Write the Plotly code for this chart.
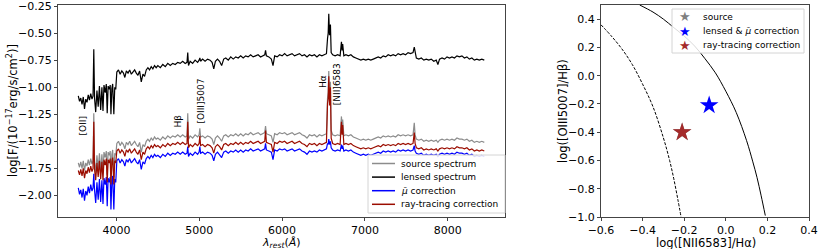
import plotly.graph_objects as go

wave = [3540,3555,3570,3585,3600,3615,3630,3645,3660,3675,
        3690,3705,3718,3727,3736,3750,3765,3780,3795,3810,
        3825,3838,3850,3865,3878,3889,3900,3915,3925,3934,
        3945,3955,3969,3980,3992,4005,4025,4045,4065,4085,
        4102,4120,4140,4160,4180,4200,4220,4240,4260,4280,
        4300,4320,4340,4360,4380,4400,4420,4440,4460,4480,
        4500,4530,4560,4590,4620,4650,4680,4710,4740,4770,
        4800,4830,4852,4861,4870,4890,4920,4950,4980,4998,
        5007,5016,5040,5070,5100,5130,5155,5175,5195,5220,
        5245,5270,5295,5320,5350,5380,5410,5440,5470,5500,
        5530,5560,5590,5620,5650,5680,5710,5740,5770,5790,
        5800,5810,5840,5870,5890,5910,5940,5970,6000,6030,
        6060,6090,6120,6150,6180,6210,6240,6270,6300,6330,
        6360,6390,6420,6450,6480,6510,6535,6548,6556,6563,
        6572,6583,6592,6610,6640,6670,6700,6716,6724,6731,
        6745,6770,6800,6830,6860,6890,6920,6950,6980,7010,
        7040,7070,7100,7130,7160,7190,7220,7250,7280,7310,
        7340,7370,7400,7430,7460,7490,7520,7550,7580,7595,
        7605,7620,7650,7680,7710,7740,7770,7800,7830,7860,
        7880,7900,7930,7960,7990,8020,8050,8080,8110,8140,
        8170,8200,8230,8260,8290,8320,8350,8380,8410,8440]

lensed = [-1.08,-1.13,-1.10,-1.16,-1.09,-1.20,-1.11,-1.14,-1.07,-1.12,
          -1.06,-1.11,-1.08,-0.65,-1.10,-1.23,-1.03,-1.18,-0.99,-1.21,
          -1.00,-1.22,-0.98,-1.05,-0.97,-1.24,-0.99,-1.02,-0.98,-1.25,
          -1.01,-0.97,-1.25,-1.00,-1.02,-0.86,-0.84,-0.88,-0.85,-0.87,
          -0.91,-0.85,-0.87,-0.84,-0.88,-0.86,-0.84,-0.87,-0.89,-0.85,
          -0.95,-0.88,-0.90,-0.84,-0.82,-0.84,-0.81,-0.83,-0.80,-0.82,
          -0.80,-0.82,-0.79,-0.81,-0.78,-0.80,-0.78,-0.79,-0.77,-0.78,
          -0.76,-0.78,-0.77,-0.68,-0.80,-0.76,-0.78,-0.75,-0.77,-0.75,
          -0.73,-0.76,-0.74,-0.76,-0.74,-0.75,-0.77,-0.83,-0.76,-0.74,
          -0.76,-0.80,-0.74,-0.73,-0.75,-0.72,-0.74,-0.72,-0.73,-0.71,
          -0.73,-0.71,-0.72,-0.70,-0.72,-0.71,-0.70,-0.72,-0.71,-0.70,
          -0.66,-0.71,-0.72,-0.74,-0.80,-0.71,-0.72,-0.70,-0.71,-0.69,
          -0.71,-0.70,-0.69,-0.71,-0.70,-0.69,-0.71,-0.70,-0.72,-0.70,
          -0.71,-0.70,-0.72,-0.70,-0.71,-0.70,-0.69,-0.55,-0.50,-0.32,
          -0.52,-0.42,-0.68,-0.70,-0.71,-0.70,-0.71,-0.58,-0.66,-0.60,
          -0.71,-0.70,-0.71,-0.70,-0.72,-0.73,-0.74,-0.75,-0.74,-0.75,
          -0.74,-0.75,-0.74,-0.73,-0.72,-0.73,-0.71,-0.72,-0.70,-0.71,
          -0.70,-0.71,-0.69,-0.70,-0.69,-0.70,-0.68,-0.69,-0.68,-0.63,
          -0.69,-0.73,-0.74,-0.73,-0.75,-0.74,-0.75,-0.74,-0.76,-0.75,
          -0.79,-0.74,-0.73,-0.74,-0.72,-0.73,-0.72,-0.73,-0.71,-0.72,
          -0.71,-0.73,-0.72,-0.74,-0.73,-0.75,-0.74,-0.75,-0.74,-0.75]

source = [-1.70,-1.74,-1.69,-1.75,-1.68,-1.77,-1.70,-1.73,-1.67,-1.72,
          -1.66,-1.71,-1.68,-1.24,-1.69,-1.79,-1.63,-1.76,-1.61,-1.78,
          -1.62,-1.79,-1.60,-1.65,-1.59,-1.81,-1.60,-1.63,-1.59,-1.83,
          -1.62,-1.58,-1.83,-1.61,-1.63,-1.52,-1.50,-1.54,-1.51,-1.53,
          -1.57,-1.51,-1.53,-1.50,-1.54,-1.52,-1.50,-1.53,-1.55,-1.51,
          -1.60,-1.53,-1.55,-1.50,-1.48,-1.50,-1.47,-1.49,-1.46,-1.48,
          -1.47,-1.49,-1.46,-1.48,-1.45,-1.47,-1.45,-1.46,-1.44,-1.46,
          -1.44,-1.46,-1.45,-1.24,-1.48,-1.45,-1.47,-1.44,-1.46,-1.44,
          -1.38,-1.46,-1.45,-1.47,-1.45,-1.46,-1.48,-1.53,-1.47,-1.45,
          -1.47,-1.50,-1.45,-1.44,-1.46,-1.44,-1.45,-1.43,-1.45,-1.43,
          -1.45,-1.43,-1.44,-1.42,-1.44,-1.43,-1.42,-1.44,-1.43,-1.42,
          -1.36,-1.43,-1.44,-1.45,-1.51,-1.43,-1.44,-1.42,-1.43,-1.42,
          -1.44,-1.43,-1.42,-1.44,-1.43,-1.42,-1.44,-1.45,-1.47,-1.44,
          -1.45,-1.44,-1.46,-1.44,-1.45,-1.44,-1.43,-1.10,-1.05,-0.85,
          -1.12,-0.95,-1.40,-1.44,-1.45,-1.44,-1.45,-1.27,-1.38,-1.30,
          -1.45,-1.44,-1.45,-1.44,-1.46,-1.47,-1.48,-1.49,-1.48,-1.49,
          -1.48,-1.49,-1.48,-1.47,-1.46,-1.47,-1.45,-1.46,-1.45,-1.46,
          -1.45,-1.46,-1.44,-1.45,-1.44,-1.45,-1.44,-1.45,-1.44,-1.33,
          -1.44,-1.48,-1.49,-1.48,-1.50,-1.49,-1.50,-1.49,-1.50,-1.49,
          -1.51,-1.49,-1.48,-1.49,-1.48,-1.49,-1.48,-1.49,-1.47,-1.48,
          -1.48,-1.49,-1.48,-1.50,-1.49,-1.51,-1.50,-1.51,-1.50,-1.51]

raytrace = [-1.77,-1.81,-1.76,-1.82,-1.75,-1.84,-1.77,-1.80,-1.74,-1.79,
            -1.73,-1.78,-1.75,-1.32,-1.76,-1.86,-1.70,-1.83,-1.68,-1.85,
            -1.69,-1.86,-1.67,-1.72,-1.66,-1.88,-1.67,-1.70,-1.66,-1.90,
            -1.69,-1.65,-1.90,-1.68,-1.70,-1.59,-1.57,-1.61,-1.58,-1.60,
            -1.64,-1.58,-1.60,-1.57,-1.61,-1.59,-1.57,-1.60,-1.62,-1.58,
            -1.67,-1.60,-1.62,-1.57,-1.55,-1.57,-1.54,-1.56,-1.53,-1.55,
            -1.54,-1.56,-1.53,-1.55,-1.52,-1.54,-1.52,-1.53,-1.51,-1.53,
            -1.51,-1.53,-1.52,-1.32,-1.56,-1.53,-1.55,-1.52,-1.54,-1.52,
            -1.45,-1.54,-1.53,-1.55,-1.53,-1.54,-1.56,-1.61,-1.55,-1.53,
            -1.55,-1.58,-1.53,-1.52,-1.54,-1.52,-1.53,-1.51,-1.53,-1.51,
            -1.53,-1.51,-1.52,-1.50,-1.52,-1.51,-1.50,-1.52,-1.51,-1.50,
            -1.40,-1.51,-1.52,-1.53,-1.60,-1.51,-1.52,-1.50,-1.51,-1.50,
            -1.52,-1.51,-1.50,-1.52,-1.51,-1.50,-1.52,-1.53,-1.55,-1.52,
            -1.53,-1.52,-1.54,-1.52,-1.53,-1.52,-1.51,-1.15,-1.10,-0.90,
            -1.17,-1.00,-1.47,-1.52,-1.53,-1.52,-1.53,-1.32,-1.44,-1.35,
            -1.53,-1.52,-1.53,-1.52,-1.54,-1.55,-1.56,-1.57,-1.56,-1.57,
            -1.56,-1.57,-1.56,-1.55,-1.54,-1.55,-1.53,-1.54,-1.53,-1.54,
            -1.53,-1.54,-1.52,-1.53,-1.52,-1.53,-1.52,-1.53,-1.52,-1.42,
            -1.52,-1.56,-1.57,-1.56,-1.58,-1.57,-1.58,-1.57,-1.58,-1.57,
            -1.59,-1.57,-1.56,-1.57,-1.56,-1.57,-1.56,-1.57,-1.55,-1.56,
            -1.56,-1.57,-1.56,-1.58,-1.57,-1.59,-1.58,-1.59,-1.58,-1.59]

mucorr = [-1.93,-1.99,-1.95,-2.02,-1.94,-2.05,-1.96,-2.00,-1.92,-1.98,
          -1.90,-1.96,-1.93,-1.80,-1.95,-2.07,-1.88,-2.04,-1.85,-2.06,
          -1.86,-2.08,-1.84,-1.90,-1.83,-2.10,-1.84,-1.88,-1.83,-2.13,
          -1.86,-1.82,-2.13,-1.85,-1.88,-1.68,-1.66,-1.70,-1.67,-1.69,
          -1.73,-1.67,-1.69,-1.66,-1.70,-1.68,-1.66,-1.69,-1.71,-1.67,
          -1.76,-1.69,-1.71,-1.66,-1.64,-1.66,-1.63,-1.65,-1.62,-1.64,
          -1.63,-1.65,-1.62,-1.64,-1.61,-1.63,-1.61,-1.62,-1.60,-1.62,
          -1.60,-1.62,-1.61,-1.55,-1.64,-1.61,-1.63,-1.60,-1.62,-1.60,
          -1.55,-1.61,-1.60,-1.62,-1.60,-1.61,-1.63,-1.68,-1.62,-1.60,
          -1.62,-1.65,-1.60,-1.59,-1.61,-1.59,-1.60,-1.58,-1.60,-1.58,
          -1.60,-1.58,-1.59,-1.57,-1.59,-1.58,-1.57,-1.59,-1.58,-1.57,
          -1.52,-1.58,-1.59,-1.60,-1.67,-1.58,-1.59,-1.57,-1.58,-1.57,
          -1.59,-1.58,-1.57,-1.59,-1.58,-1.57,-1.59,-1.60,-1.62,-1.59,
          -1.60,-1.59,-1.60,-1.58,-1.59,-1.58,-1.57,-1.52,-1.53,-1.48,
          -1.53,-1.50,-1.56,-1.58,-1.59,-1.58,-1.59,-1.53,-1.57,-1.54,
          -1.59,-1.58,-1.59,-1.58,-1.60,-1.61,-1.62,-1.63,-1.62,-1.63,
          -1.62,-1.63,-1.62,-1.61,-1.60,-1.61,-1.59,-1.60,-1.59,-1.60,
          -1.59,-1.60,-1.58,-1.59,-1.58,-1.59,-1.58,-1.59,-1.58,-1.54,
          -1.59,-1.61,-1.62,-1.61,-1.63,-1.62,-1.63,-1.62,-1.63,-1.62,
          -1.64,-1.62,-1.61,-1.62,-1.61,-1.62,-1.61,-1.62,-1.60,-1.61,
          -1.61,-1.62,-1.61,-1.63,-1.62,-1.64,-1.63,-1.64,-1.63,-1.64]

assert len(wave) == len(lensed) == len(source) == len(raytrace) == len(mucorr), \
    (len(wave), len(lensed), len(source), len(raytrace), len(mucorr))

wave_ticks = [4000, 5000, 6000, 7000, 8000]
flux_ticks = [-0.25, -0.5, -0.75, -1.0, -1.25, -1.5, -1.75, -2.0]
n2_ticks = [-0.6, -0.4, -0.2, 0.0, 0.2, 0.4]
o3_ticks = [0.4, 0.2, 0.0, -0.2, -0.4, -0.6, -0.8, -1.0]

line_labels = ["[OII]", "Hβ", "[OIII]5007", "Hα", "[NII]6583"]
label_x = [3600, 4740, 5025, 6485, 6665]
label_y = [-1.36, -1.31, -1.13, -0.95, -0.97]

# BPT panel: demarcation curves and star points
kauff_x = [-0.60, -0.55, -0.50, -0.45, -0.40, -0.35, -0.30, -0.27, -0.25, -0.23, -0.215]
kauff_y = [0.36, 0.28, 0.19, 0.08, -0.06, -0.22, -0.44, -0.60, -0.73, -0.88, -1.00]
kew_x = [-0.414, -0.35, -0.30, -0.25, -0.20, -0.15, -0.10, -0.05, 0.00, 0.05, 0.10, 0.13, 0.15, 0.17, 0.19]
kew_y = [0.50, 0.45, 0.40, 0.34, 0.28, 0.21, 0.12, 0.02, -0.11, -0.26, -0.46, -0.61, -0.72, -0.85, -0.99]

star_names = ["source", "lensed & <i>μ̄</i> correction", "ray-tracing correction"]
star_x = [-0.21, -0.08, -0.21]
star_y = [-0.40, -0.21, -0.40]
star_colors = ["#808080", "#0000ff", "#a52a2a"]

spec_names = ["source spectrum", "lensed spectrum", "<i>μ̄</i> correction", "ray-tracing correction"]
spec_colors = ["#8c8c8c", "#000000", "#0000ff", "#9b0d00"]

FONT = "DejaVu Sans"
W, H = 830, 249


def px(x):
    return x / W


def py(y):
    return 1 - y / H


fig = go.Figure()

for name, vals, col in zip(spec_names, [source, lensed, mucorr, raytrace], spec_colors):
    fig.add_trace(go.Scatter(x=wave, y=vals, mode="lines", name=name, showlegend=False,
                             line=dict(color=col, width=1.2), xaxis="x", yaxis="y"))

for lab, lx, ly in zip(line_labels, label_x, label_y):
    fig.add_annotation(x=lx, y=ly, xref="x", yref="y", text=lab, textangle=-90,
                       showarrow=False, font=dict(family=FONT, size=9, color="black"))

fig.add_trace(go.Scatter(x=kauff_x, y=kauff_y, mode="lines",
                         line=dict(color="black", width=1, dash="3px,1.5px", shape="spline"),
                         xaxis="x2", yaxis="y2", showlegend=False))
fig.add_trace(go.Scatter(x=kew_x, y=kew_y, mode="lines",
                         line=dict(color="black", width=1, shape="spline"),
                         xaxis="x2", yaxis="y2", showlegend=False))
for nm, sx, sy, sc in zip(star_names, star_x, star_y, star_colors):
    fig.add_trace(go.Scatter(x=[sx], y=[sy], mode="markers", name=nm, showlegend=False,
                             marker=dict(symbol="star", size=14, color=sc, line=dict(width=0)),
                             xaxis="x2", yaxis="y2"))

# ---- hand-built legends (matplotlib-like compact layout) ----
shapes = []
annos = []
# left legend
shapes.append(dict(type="rect", xref="paper", yref="paper", x0=px(368), x1=px(505), y0=py(213), y1=py(155),
                   line=dict(color="#d4d4d4", width=1), fillcolor="rgba(255,255,255,0.85)", layer="above"))
for i, (nm, col) in enumerate(zip(spec_names, spec_colors)):
    yy = 163.5 + i * 13.6
    shapes.append(dict(type="line", xref="paper", yref="paper", x0=px(372), x1=px(395), y0=py(yy), y1=py(yy),
                       line=dict(color=col, width=1.5), layer="above"))
    annos.append(dict(x=px(399), y=py(yy), xref="paper", yref="paper", text=nm, showarrow=False,
                      xanchor="left", yanchor="middle", font=dict(family=FONT, size=9, color="black")))
# right legend
shapes.append(dict(type="rect", xref="paper", yref="paper", x0=px(672), x1=px(804), y0=py(53), y1=py(9),
                   line=dict(color="#d4d4d4", width=1), fillcolor="rgba(255,255,255,0.85)", layer="above"))
for i, (nm, col) in enumerate(zip(star_names, star_colors)):
    yy = 17 + i * 14
    annos.append(dict(x=px(685), y=py(yy), xref="paper", yref="paper", text="★", showarrow=False,
                      xanchor="center", yanchor="middle", borderpad=0,
                      font=dict(family=FONT, size=13, color=col)))
    annos.append(dict(x=px(702), y=py(yy), xref="paper", yref="paper", text=nm, showarrow=False,
                      xanchor="left", yanchor="middle", borderpad=0,
                      font=dict(family=FONT, size=9, color="black")))

# axis titles
annos.append(dict(x=px(281.5), y=py(243), xref="paper", yref="paper",
                  text="<i>λ</i><sub><i>rest</i></sub>(<i>Å</i>)", showarrow=False, borderpad=0,
                  xanchor="center", yanchor="middle", font=dict(family=FONT, size=11, color="black")))
annos.append(dict(x=px(12), y=py(111), xref="paper", yref="paper", textangle=-90,
                  text="log[F/(10<sup>−17</sup>erg/s/cm<sup>2</sup>)]", showarrow=False,
                  xanchor="center", yanchor="middle", font=dict(family=FONT, size=11.5, color="black")))
annos.append(dict(x=px(706), y=py(242.5), xref="paper", yref="paper",
                  text="log([NII6583]/Hα)", showarrow=False, borderpad=0,
                  xanchor="center", yanchor="middle", font=dict(family=FONT, size=11.5, color="black")))
annos.append(dict(x=px(563), y=py(111), xref="paper", yref="paper", textangle=-90,
                  text="log([OIII5007]/Hβ)", showarrow=False,
                  xanchor="center", yanchor="middle", font=dict(family=FONT, size=11.5, color="black")))

axis_common = dict(showline=True, mirror=True, linecolor="#444", linewidth=1, ticks="outside",
                   ticklen=3, tickcolor="#444", showgrid=False, zeroline=False, automargin=False,
                   ticklabeloverflow="allow",
                   tickfont=dict(family=FONT, size=11, color="black"))

fig.update_layout(
    width=W, height=H,
    margin=dict(l=0, r=0, t=0, b=0),
    paper_bgcolor="white", plot_bgcolor="white",
    font=dict(family=FONT, size=11, color="black"),
    showlegend=False,
    xaxis=dict(domain=[58/W, 505/W], range=[3295, 8690], tickvals=wave_ticks,
               anchor="y", **axis_common),
    yaxis=dict(domain=[32/H, 244/H], range=[-2.2, -0.24],
               tickvals=flux_ticks, tickformat=".2f",
               anchor="x", **axis_common),
    xaxis2=dict(domain=[601/W, 809/W], range=[-0.6, 0.4], tickvals=n2_ticks,
                tickformat=".1f", anchor="y2", **axis_common),
    yaxis2=dict(domain=[32/H, 244/H], range=[-1.0, 0.5],
                tickvals=o3_ticks, tickformat=".1f",
                anchor="x2", **axis_common),
    shapes=shapes,
    annotations=list(fig.layout.annotations) + annos,
)

fig.write_html("out.html", config={"displayModeBar": False},
               post_script="document.body.style.margin='0';")
